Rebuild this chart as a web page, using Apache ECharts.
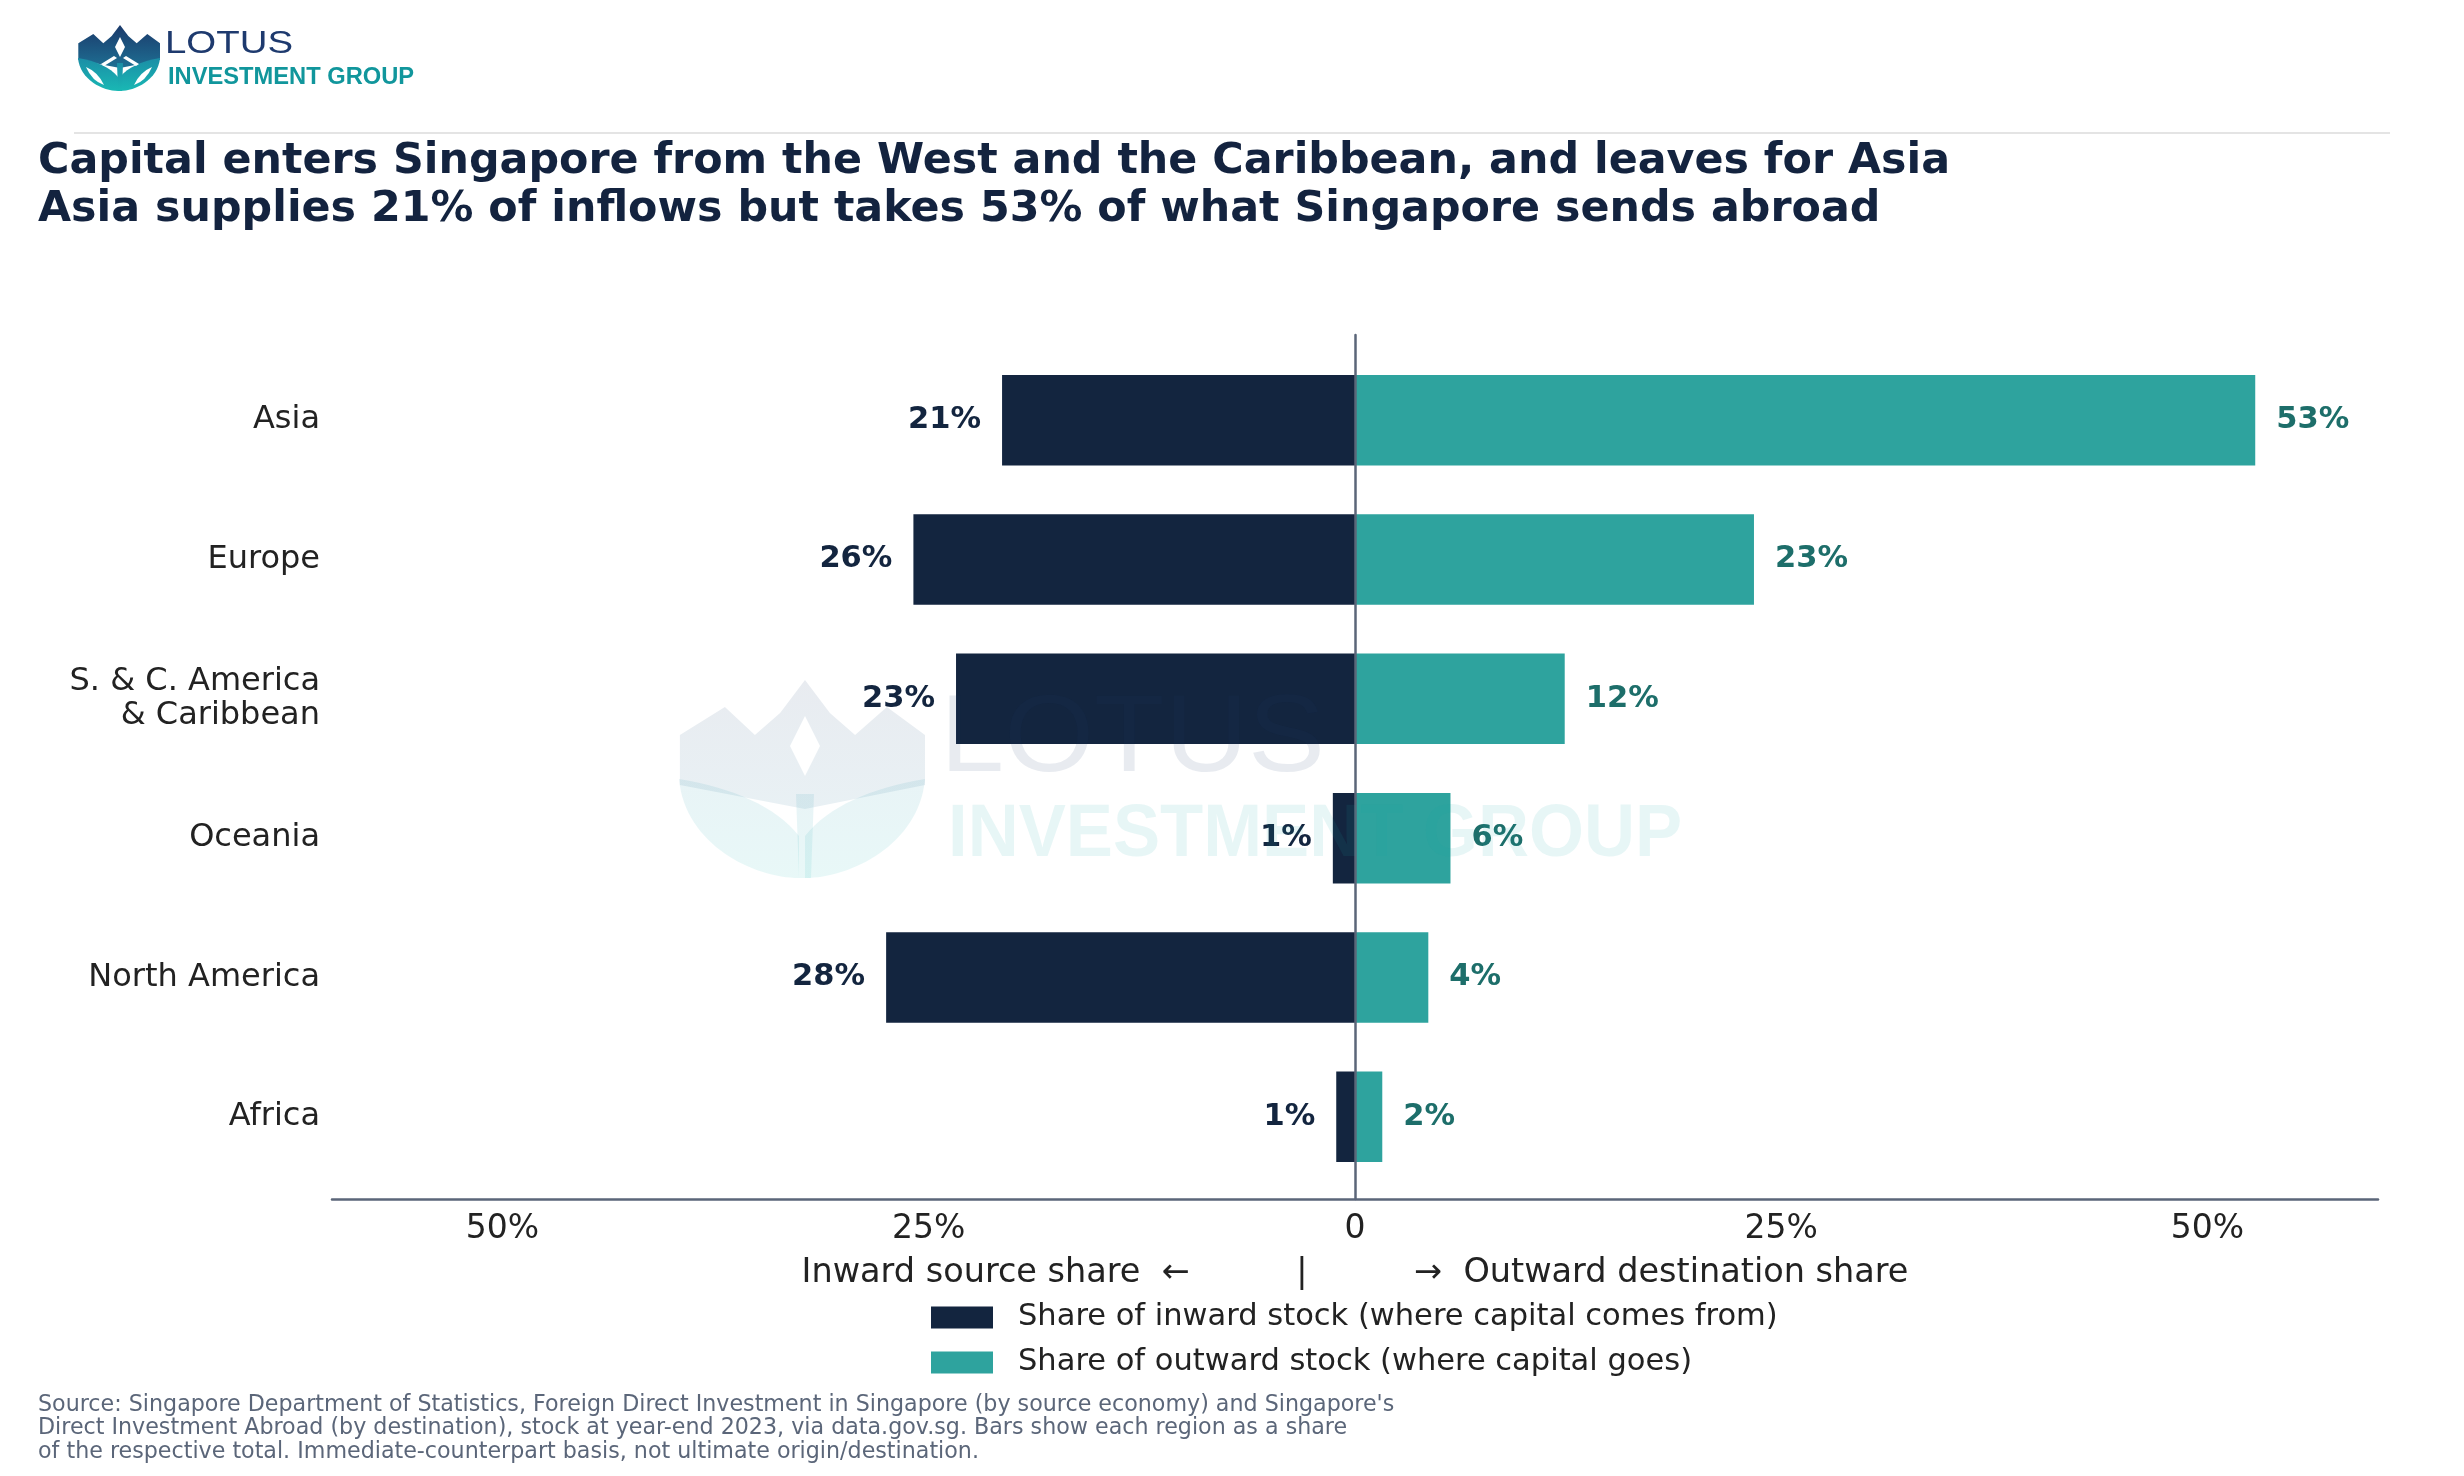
<!DOCTYPE html>
<html>
<head>
<meta charset="utf-8">
<script src="https://cdn.jsdelivr.net/npm/echarts@6/dist/echarts.min.js"></script>
<style>
  html, body { margin: 0; padding: 0; background: #fff; }
  #chart { width: 2464px; height: 1476px; }
</style>
</head>
<body>
<div id="chart"></div>
<script>
// regional FDI shares, stock at year-end 2023 (% of respective total)
var regions = ['Asia', 'Europe', 'S. & C. America\n& Caribbean', 'Oceania', 'North America', 'Africa'];
var inwardShare = [20.7, 25.9, 23.4, 1.3, 27.5, 1.1];
var outwardShare = [52.8, 23.4, 12.3, 5.6, 4.3, 1.6];
var tickValues = [-50, -25, 0, 25, 50];
var seriesNames = ['Share of inward stock (where capital comes from)', 'Share of outward stock (where capital goes)'];

var NAVY = '#13253f';
var TEAL = '#2ea39e';
var TEAL_TEXT = '#1d6e6a';
var INK = '#222222';
var FONT = 'DejaVu Sans';

// lotus mark, local box 82 x 66 (diamond drawn as a hole)
var shapes = {
  lotusCrown: 'M0.3,18.3 L15.3,9 L25.3,18.3 L33.7,11 L42,0 L50.3,11 L58.7,18.3 L69.3,9 L82,18.3 L82,35 L42,43 L0.3,35 Z ' +
              'M42,12 L37,22 L42,32 L47,22 Z',
  lotusLeafL: 'M0,33 C2,55 25,66 40,66 L40,52 C32,42 18,36 0,33 Z',
  lotusLeafR: 'M82,33 C80,55 57,66 42,66 L42,52 C50,42 64,36 82,33 Z',
  lotusStem: 'M39,38 L45,38 L44,66 L40,66 Z',
  lotusCutL: 'M8,42 Q20,47 26,60 Q14,56 8,42 Z',
  lotusCutR: 'M74,42 Q62,47 56,60 Q68,56 74,42 Z',
  lotusVeinL: 'M36,31 L39,33 L26,41 L23,39 Z',
  lotusVeinR: 'M48,31 L45,33 L58,41 L61,39 Z'
};
Object.keys(shapes).forEach(function (k) {
  echarts.graphic.registerShape(k, echarts.graphic.extendPath(shapes[k], {}));
});

function lotusMark(x, y, s, opacity, cutouts) {
  var crownFill = new echarts.graphic.LinearGradient(0, 0, 0, 1, [
    { offset: 0, color: '#1b3a6b' }, { offset: 1, color: '#1e6f93' }]);
  var leafFill = new echarts.graphic.LinearGradient(0, 0, 0, 1, [
    { offset: 0, color: '#1b8ea6' }, { offset: 1, color: '#19b8b4' }]);
  var kids = [
    { type: 'lotusCrown', style: { fill: crownFill, opacity: opacity } },
    { type: 'lotusLeafL', style: { fill: leafFill, opacity: opacity } },
    { type: 'lotusLeafR', style: { fill: leafFill, opacity: opacity } },
    { type: 'lotusStem', style: { fill: leafFill, opacity: opacity } }
  ];
  if (cutouts) {
    ['lotusCutL', 'lotusCutR', 'lotusVeinL', 'lotusVeinR'].forEach(function (t) {
      kids.push({ type: t, style: { fill: '#ffffff' } });
    });
  }
  return { type: 'group', x: x, y: y, scaleX: s, scaleY: s, z: 100, silent: true, children: kids };
}

var chart = echarts.init(document.getElementById('chart'), null, { renderer: 'canvas' });

var option = {
  backgroundColor: '#ffffff',
  animation: false,
  textStyle: { fontFamily: FONT },
  title: {
    text: 'Capital enters Singapore from the West and the Caribbean, and leaves for Asia\n' +
          'Asia supplies 21% of inflows but takes 53% of what Singapore sends abroad',
    left: 38,
    top: 138,
    padding: 0,
    textStyle: { fontFamily: FONT, fontSize: 42.8, fontWeight: 'bold', color: '#13233f', lineHeight: 48 }
  },
  legend: {
    data: seriesNames,
    orient: 'vertical',
    left: 931,
    top: 1302,
    padding: 0,
    itemWidth: 62,
    itemHeight: 22,
    itemGap: 14,
    icon: 'rect',
    selectedMode: false,
    textStyle: { fontFamily: FONT, fontSize: 30.5, color: INK, lineHeight: 30, padding: [0, 0, 0, 20] }
  },
  grid: [
    { left: 332, right: 86, top: 335, height: 864 },
    { left: 332, right: 86, top: 350.5, height: 836 }
  ],
  xAxis: [
    {
      gridIndex: 0, type: 'value', min: -60, max: 60,
      axisLine: { show: true, lineStyle: { color: '#5b6679', width: 2.5 } },
      axisTick: { show: false },
      splitLine: { show: false },
      axisLabel: {
        customValues: tickValues,
        margin: 14,
        fontFamily: FONT, fontSize: 33, color: INK,
        formatter: function (v) { return v === 0 ? '0' : Math.abs(v) + '%'; }
      },
      name: 'Inward source share  \u2190          |          \u2192  Outward destination share',
      nameLocation: 'middle',
      nameGap: 57,
      nameTextStyle: { fontFamily: FONT, fontSize: 33.5, color: INK }
    },
    { gridIndex: 1, type: 'value', min: -60, max: 60, show: false }
  ],
  yAxis: [
    {
      gridIndex: 0, type: 'value', min: 0, max: 1, z: 5,
      axisLine: { show: true, onZero: true, lineStyle: { color: '#5b6679', width: 2.5 } },
      axisTick: { show: false }, axisLabel: { show: false }, splitLine: { show: false }
    },
    {
      gridIndex: 1, type: 'category', inverse: true, data: regions,
      axisLine: { show: false }, axisTick: { show: false }, splitLine: { show: false },
      axisLabel: { margin: 12, fontFamily: FONT, fontSize: 32, lineHeight: 34.5, color: INK, align: 'right', padding: [11, 0, 0, 0] }
    }
  ],
  series: [
    {
      name: seriesNames[0], type: 'bar', xAxisIndex: 1, yAxisIndex: 1, stack: 'share',
      barWidth: '65%',
      data: inwardShare.map(function (v) { return -v; }),
      itemStyle: { color: NAVY },
      label: {
        show: true, position: 'left', distance: 21,
        fontFamily: FONT, fontSize: 30.5, fontWeight: 'bold', color: NAVY,
        formatter: function (p) { return Math.round(Math.abs(p.value)) + '%'; }
      }
    },
    {
      name: seriesNames[1], type: 'bar', xAxisIndex: 1, yAxisIndex: 1, stack: 'share',
      barWidth: '65%',
      data: outwardShare,
      itemStyle: { color: TEAL },
      label: {
        show: true, position: 'right', distance: 21,
        fontFamily: FONT, fontSize: 30.5, fontWeight: 'bold', color: TEAL_TEXT,
        formatter: function (p) { return Math.round(p.value) + '%'; }
      }
    }
  ],
  graphic: [
    // header logo
    lotusMark(78, 25, 1, 1, true),
    { type: 'text', left: 165, top: 28, scaleX: 1.2, style: { text: 'LOTUS', fontFamily: 'Liberation Sans', fontSize: 32, fill: '#1e3a6e' } },
    { type: 'text', left: 168, top: 65, style: { text: 'INVESTMENT GROUP', fontFamily: 'Liberation Sans', fontSize: 23.7, fontWeight: 'bold', fill: '#11969c' } },
    // header rule
    { type: 'line', shape: { x1: 74, y1: 133, x2: 2390, y2: 133 }, style: { stroke: '#e4e4e4', lineWidth: 2 } },
    // watermark
    lotusMark(679, 680, 3, 0.1, false),
    { type: 'text', left: 940, top: 686, z: 100, silent: true, scaleX: 1.05,
      style: { text: 'LOTUS', fontFamily: 'Liberation Sans', fontSize: 110, fill: '#1b3a6b', opacity: 0.1 } },
    { type: 'text', left: 948, top: 799, z: 100, silent: true, scaleX: 0.955,
      style: { text: 'INVESTMENT GROUP', fontFamily: 'Liberation Sans', fontSize: 74, fontWeight: 'bold', fill: '#17a3a8', opacity: 0.1 } },
    // source note
    { type: 'text', left: 38, top: 1393,
      style: {
        text: "Source: Singapore Department of Statistics, Foreign Direct Investment in Singapore (by source economy) and Singapore's\n" +
              'Direct Investment Abroad (by destination), stock at year-end 2023, via data.gov.sg. Bars show each region as a share\n' +
              'of the respective total. Immediate-counterpart basis, not ultimate origin/destination.',
        fontFamily: FONT, fontSize: 22.2, lineHeight: 23.5, fill: '#5b6679'
      } }
  ]
};

chart.setOption(option);
</script>
</body>
</html>
